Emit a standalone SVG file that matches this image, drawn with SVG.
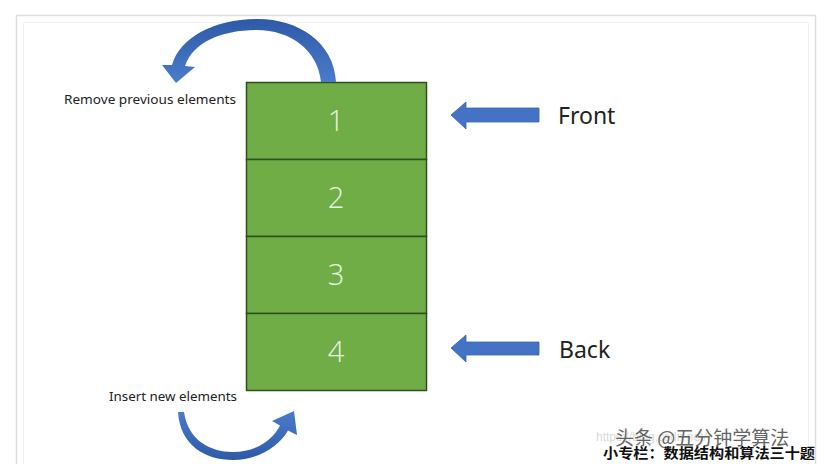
<svg xmlns="http://www.w3.org/2000/svg" width="827" height="464" viewBox="0 0 827 464">
  <defs>
    <linearGradient id="blueGrad" x1="0" y1="0" x2="0" y2="1">
      <stop offset="0" stop-color="#2E5AA8"/>
      <stop offset="1" stop-color="#4A7CCB"/>
    </linearGradient>
    <linearGradient id="blueGrad2" x1="0" y1="1" x2="0" y2="0">
      <stop offset="0" stop-color="#2E5AA8"/>
      <stop offset="1" stop-color="#4A7CCB"/>
    </linearGradient>
  </defs>
  <style>
    .cell { fill: #70AD47; stroke: #2F4F1E; stroke-width: 1.5; }
    .num { font-family: "Open Sans", "Noto Sans", sans-serif; font-size: 29px; font-weight: 300; fill: #EAF4E2; text-anchor: middle; }
    .lbl { font-family: "Noto Sans", "Open Sans", sans-serif; font-size: 13px; fill: #222; }
    .big { font-family: "Noto Sans", "Open Sans", sans-serif; font-size: 23px; fill: #222; }
    .ptr { fill: #4472C4; stroke: #3A64B0; stroke-width: 0.8; }
    .frame { stroke: #DDDDDD; stroke-width: 1.5; fill: none; }
    .frame2 { stroke: #F2F2F2; stroke-width: 1; fill: none; }
  </style>
  <rect width="827" height="464" fill="#FFFFFF"/>
  <g id="frame">
    <path class="frame" d="M16.5 464 V15.5 H815.5 V464"/>
    <path class="frame2" d="M23.5 464 V22.5 H808.5 V464"/>
  </g>

  <g id="node-1">
    <rect class="cell" x="246.5" y="82.5" width="180" height="77"/>
    <text class="num" x="336" y="131">1</text>
  </g>
  <g id="node-2">
    <rect class="cell" x="246.5" y="159.5" width="180" height="77"/>
    <text class="num" x="336" y="208">2</text>
  </g>
  <g id="node-3">
    <rect class="cell" x="246.5" y="236.5" width="180" height="77"/>
    <text class="num" x="336" y="285">3</text>
  </g>
  <g id="node-4">
    <rect class="cell" x="246.5" y="313.5" width="180" height="77"/>
    <text class="num" x="336" y="362">4</text>
  </g>

  <g id="label-remove">
    <text class="lbl" x="64" y="104" textLength="172" lengthAdjust="spacingAndGlyphs">Remove previous elements</text>
  </g>
  <g id="label-insert">
    <text class="lbl" x="109" y="401" textLength="128" lengthAdjust="spacingAndGlyphs">Insert new elements</text>
  </g>
  <g id="label-front">
    <text class="big" x="558" y="124">Front</text>
  </g>
  <g id="label-back">
    <text class="big" x="559" y="358">Back</text>
  </g>

  <g id="connectors">
    <path fill="url(#blueGrad)" d="M336 82 C334 42 298 19 258 19 C215 19 180 37 172 65 L162 65 L176 83 L195 67 L185 66 C193 42 222 30 257 30 C290 30 318 50 321 82 Z"/>
    <path fill="url(#blueGrad2)" d="M178 412 C180 445 205 460 233 460 C256 460 278 448 288 430.5 L297 435 L294 411 L272 421 L280 425.5 C272 441 255 452 233 452 C210 452 188 440 184 412 Z"/>
    <polygon class="ptr" points="451,115 466,102 466,108 539,108 539,122 466,122 466,129"/>
    <polygon class="ptr" points="451,348 466,335 466,342 539,342 539,355 466,355 466,362"/>
  </g>

  <g id="watermark">
    <text x="596" y="441" font-family="Liberation Sans, sans-serif" font-size="12" fill="#DADADA">https://blog.csdn.net/</text>
    <text x="615" y="445" font-family="Noto Sans CJK SC, sans-serif" font-size="19" fill="#4A4A4A" opacity="0.85">头条 @五分钟学算法</text>
    <text x="603" y="458" font-family="Noto Sans CJK SC, sans-serif" font-size="14" font-weight="bold" fill="#111" textLength="212" lengthAdjust="spacingAndGlyphs">小专栏：数据结构和算法三十题</text>
  </g>
</svg>
